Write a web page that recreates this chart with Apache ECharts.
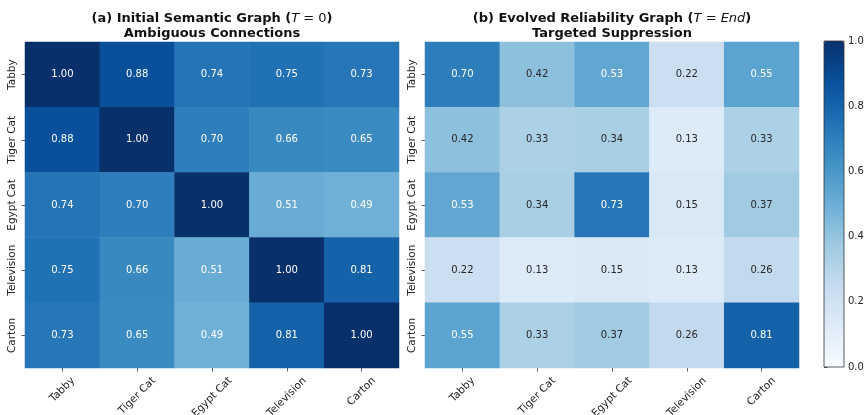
<!DOCTYPE html>
<html>
<head>
<meta charset="utf-8">
<script src="https://cdn.jsdelivr.net/npm/echarts@6/dist/echarts.min.js"></script>
<style>
html,body{margin:0;padding:0;background:#fff;}
#chart{width:868px;height:415px;}
</style>
</head>
<body>
<div id="chart"></div>
<script>
// categories, same order on both axes
var labels = ['Tabby', 'Tiger Cat', 'Egypt Cat', 'Television', 'Carton'];

// (a) initial semantic graph, row by row
var initialRows = [
    [1.00, 0.88, 0.74, 0.75, 0.73],
    [0.88, 1.00, 0.70, 0.66, 0.65],
    [0.74, 0.70, 1.00, 0.51, 0.49],
    [0.75, 0.66, 0.51, 1.00, 0.81],
    [0.73, 0.65, 0.49, 0.81, 1.00]
];
// (b) evolved reliability graph
var evolvedRows = [
    [0.70, 0.42, 0.53, 0.22, 0.55],
    [0.42, 0.33, 0.34, 0.13, 0.33],
    [0.53, 0.34, 0.73, 0.15, 0.37],
    [0.22, 0.13, 0.15, 0.13, 0.26],
    [0.55, 0.33, 0.37, 0.26, 0.81]
];
var colorbarTicks = [0, 0.2, 0.4, 0.6, 0.8, 1.0];

// matplotlib "Blues"
var blues = ['#f7fbff', '#deebf7', '#c6dbef', '#9ecae1', '#6baed6', '#4292c6', '#2171b5', '#08519c', '#08306b'];

var font = 'DejaVu Sans';
var tickFont = 10.5;
var gridTop = 42, gridH = 326, gridW = 374;

function toCells(rows) {
    var out = [];
    rows.forEach(function (row, r) {
        row.forEach(function (v, c) {
            out.push({
                value: [c, r, v],
                label: {color: v >= 0.45 ? '#ffffff' : '#262626'}
            });
        });
    });
    return out;
}

// rotated x labels are centred under the tick like matplotlib (ha=center),
// so each one gets pushed down by a share of its own width
var measure = document.createElement('canvas').getContext('2d');
measure.font = tickFont + 'px "' + font + '"';
var xRich = {};
labels.forEach(function (name, i) {
    var w = measure.measureText(name).width;
    xRich['l' + i] = {
        fontSize: tickFont, fontFamily: font, color: '#222',
        padding: [w * 0.5, w * 0.5, 0, 0]
    };
});

function xAxisCfg(idx) {
    return {
        type: 'category', gridIndex: idx, data: labels, position: 'bottom',
        axisLine: {show: false},
        axisTick: {show: true, alignWithLabel: true, length: 3.5, lineStyle: {color: '#333', width: 0.8}},
        axisLabel: {
            interval: 0, rotate: 45, align: 'center', verticalAlign: 'middle',
            fontSize: tickFont, color: '#222', fontFamily: font, margin: 11,
            formatter: function (v, i) { return '{l' + i + '|' + v + '}'; },
            rich: xRich
        },
        splitArea: {show: false}
    };
}
function yAxisCfg(idx) {
    return {
        type: 'category', gridIndex: idx, data: labels, inverse: true,
        axisLine: {show: false},
        axisTick: {show: true, alignWithLabel: true, length: 3.5, lineStyle: {color: '#333', width: 0.8}},
        axisLabel: {interval: 0, rotate: 90, fontSize: tickFont, color: '#222', fontFamily: font, margin: 7, align: 'center', verticalAlign: 'bottom'},
        splitArea: {show: false}
    };
}

var titleStyle = {
    fontSize: 13, fontWeight: 'bold', color: '#111', fontFamily: font, lineHeight: 15,
    rich: {
        it: {fontSize: 13, fontStyle: 'italic', fontWeight: 'normal', color: '#111', fontFamily: font, lineHeight: 15},
        m: {fontSize: 13, fontWeight: 'normal', color: '#111', fontFamily: font, lineHeight: 15}
    }
};

var myChart = echarts.init(document.getElementById('chart'), null, {renderer: 'canvas'});
var option = {
    backgroundColor: '#fff',
    animation: false,
    title: [{
        text: '(a) Initial Semantic Graph ({it|T}{m| = 0})\nAmbiguous Connections',
        left: 212, top: 11, padding: 0, textAlign: 'center',
        textStyle: titleStyle
    }, {
        text: '(b) Evolved Reliability Graph ({it|T}{m| = }{it|End})\nTargeted Suppression',
        left: 612, top: 11, padding: 0, textAlign: 'center',
        textStyle: titleStyle
    }],
    grid: [
        {left: 25, top: gridTop, width: gridW, height: gridH, outerBoundsMode: 'none'},
        {left: 425, top: gridTop, width: gridW, height: gridH, outerBoundsMode: 'none'},
        {left: 824, top: 41, width: 20, height: gridH, outerBoundsMode: 'none', show: true, borderColor: '#333', borderWidth: 0.8, backgroundColor: 'transparent', z: 5}
    ],
    xAxis: [
        xAxisCfg(0),
        xAxisCfg(1),
        {type: 'value', gridIndex: 2, show: false, min: 0, max: 1}
    ],
    yAxis: [
        yAxisCfg(0),
        yAxisCfg(1),
        {
            type: 'value', gridIndex: 2, position: 'right', min: colorbarTicks[0], max: colorbarTicks[colorbarTicks.length - 1], interval: 0.2,
            axisLine: {show: false},
            splitLine: {show: false},
            axisTick: {show: true, length: 3.5, lineStyle: {color: '#333', width: 0.8}},
            axisLabel: {fontSize: 10, color: '#222', fontFamily: font, margin: 4,
                formatter: function (v) { return v.toFixed(1); }}
        }
    ],
    visualMap: {
        type: 'continuous', min: 0, max: 1, calculable: false, seriesIndex: [0, 1],
        orient: 'vertical', left: 824, top: 41, itemWidth: 20, itemHeight: gridH,
        padding: 0, text: null, showLabel: false, realtime: false,
        inRange: {color: blues}
    },
    series: [{
        type: 'heatmap', xAxisIndex: 0, yAxisIndex: 0,
        data: toCells(initialRows),
        label: {show: true, fontSize: 10, fontFamily: font, formatter: function (p) { return p.value[2].toFixed(2); }},
        emphasis: {disabled: true}
    }, {
        type: 'heatmap', xAxisIndex: 1, yAxisIndex: 1,
        data: toCells(evolvedRows),
        label: {show: true, fontSize: 10, fontFamily: font, formatter: function (p) { return p.value[2].toFixed(2); }},
        emphasis: {disabled: true}
    }]
};
myChart.setOption(option, true);
</script>
</body>
</html>
